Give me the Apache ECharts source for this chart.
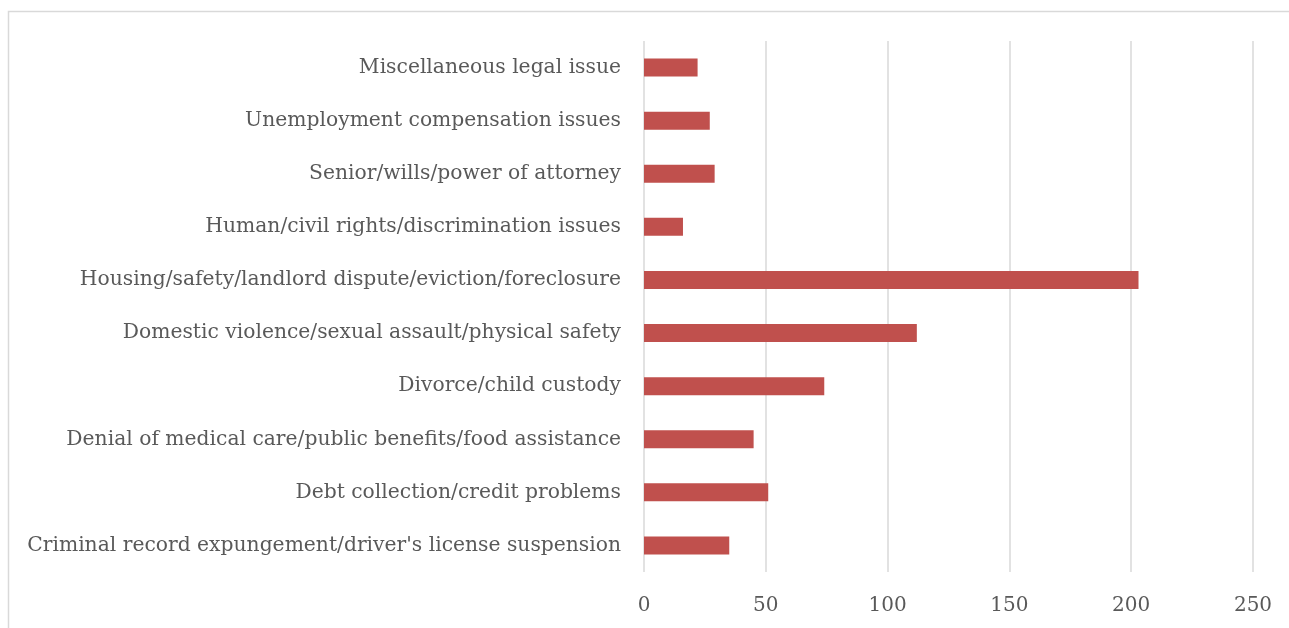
<!DOCTYPE html>
<html><head><meta charset="utf-8">
<script src="https://cdn.jsdelivr.net/npm/echarts@6/dist/echarts.min.js"></script>
<style>html,body{margin:0;padding:0;background:#fff}#c{width:1289px;height:628px}</style>
</head><body><div id="c"></div>
<script>
const categories = [
  "Criminal record expungement/driver's license suspension",
  "Debt collection/credit problems",
  "Denial of medical care/public benefits/food assistance",
  "Divorce/child custody",
  "Domestic violence/sexual assault/physical safety",
  "Housing/safety/landlord dispute/eviction/foreclosure",
  "Human/civil rights/discrimination issues",
  "Senior/wills/power of attorney",
  "Unemployment compensation issues",
  "Miscellaneous legal issue"
];
const values = [35, 51, 45, 74, 112, 203, 16, 29, 27, 22];
const xTicks = [0, 50, 100, 150, 200, 250];

const chart = echarts.init(document.getElementById('c'), null, {renderer: 'canvas'});
const FONT = 'DejaVu Serif';
chart.setOption({
  animation: false,
  backgroundColor: '#fff',
  graphic: [{
    type: 'rect', shape: {x: 8.5, y: 11.5, width: 1300, height: 700},
    style: {fill: 'none', stroke: '#d9d9d9', lineWidth: 1.5}, silent: true
  }],
  grid: {left: 644, right: 36, top: 41, bottom: 56, containLabel: false},
  xAxis: {
    type: 'value', min: xTicks[0], max: xTicks[xTicks.length - 1], interval: 50,
    axisLine: {show: false}, axisTick: {show: false},
    splitLine: {show: true, lineStyle: {color: '#d9d9d9', width: 1.5}},
    axisLabel: {fontFamily: FONT, fontSize: 20, color: '#595959', margin: 24}
  },
  yAxis: {
    type: 'category', data: categories,
    axisLine: {show: false}, axisTick: {show: false},
    axisLabel: {fontFamily: FONT, fontSize: 20.3, color: '#595959', margin: 23, padding: [4, 0, 0, 0]}
  },
  series: [{
    type: 'bar', data: values, barWidth: 18,
    itemStyle: {color: '#C0504D'}
  }]
});
</script></body></html>
